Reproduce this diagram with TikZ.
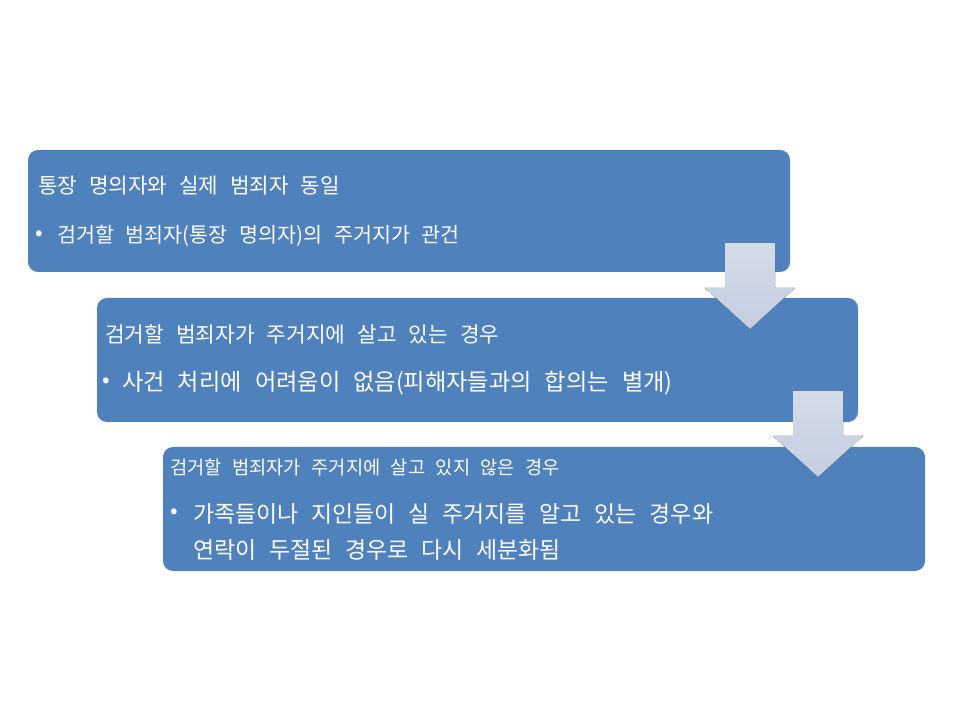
\documentclass[tikz,border=0pt]{standalone}
\usepackage{fontspec}
\setmainfont[WordSpace=2.5]{Noto Sans CJK KR}
\usetikzlibrary{positioning}

\definecolor{boxblue}{HTML}{4F81BD}
\definecolor{arrowtop}{HTML}{D4DBE8}
\definecolor{arrowbot}{HTML}{C4CEDF}

\tikzset{
  casebox/.style={fill=boxblue, rounded corners=10*0.025cm},
  boxtext/.style={anchor=west, text=white, inner sep=0pt},
  itemdot/.style={boxtext, font=\fontsize{16}{16}\selectfont},
  downarrow/.style={top color=arrowtop, bottom color=arrowbot, draw=none}
}

\begin{document}
\begin{tikzpicture}[x=0.025cm, y=-0.025cm]
\useasboundingbox (0,0) rectangle (960,720);

% ---- First case --------------------------------------------------------
\fill[casebox] (28,150) rectangle (790,272);
\node[boxtext, font=\fontsize{15.1}{18}\selectfont] (t1) at (38,186) {통장 명의자와 실제 범죄자 동일};
\node[itemdot] (d1) at (35,236) {•};
\node[boxtext, font=\fontsize{14.7}{18}\selectfont] (i1) at (57,236) {검거할 범죄자(통장 명의자)의 주거지가 관건};

% ---- Second case -------------------------------------------------------
\fill[casebox] (97,298) rectangle (858,422);
\node[boxtext, font=\fontsize{15.2}{18}\selectfont] (t2) at (105,334) {검거할 범죄자가 주거지에 살고 있는 경우};
\node[itemdot] (d2) at (102,383) {•};
\node[boxtext, font=\fontsize{16.5}{19}\selectfont] (i2) at (122,383) {사건 처리에 어려움이 없음(피해자들과의 합의는 별개)};

% ---- Arrow, first to second --------------------------------------------
\fill[downarrow] (725,243) -- (775,243) -- (775,288) -- (795,288) -- (750,329)
  -- (705,288) -- (725,288) -- cycle;

% ---- Third case --------------------------------------------------------
\fill[casebox] (163,447) rectangle (925,571);
\node[boxtext, font=\fontsize{13.3}{16}\selectfont] (t3) at (170,467) {검거할 범죄자가 주거지에 살고 있지 않은 경우};
\node[itemdot] (d3) at (170,514) {•};
\node[boxtext, font=\fontsize{16.3}{25.6}\selectfont, align=left] (i3) at (193,532)
  {가족들이나 지인들이 실 주거지를 알고 있는 경우와\\연락이 두절된 경우로 다시 세분화됨};

% ---- Arrow, second to third --------------------------------------------
\fill[downarrow] (793,391) -- (843,391) -- (843,436) -- (863,436) -- (818,477)
  -- (773,436) -- (793,436) -- cycle;

\end{tikzpicture}
\end{document}
